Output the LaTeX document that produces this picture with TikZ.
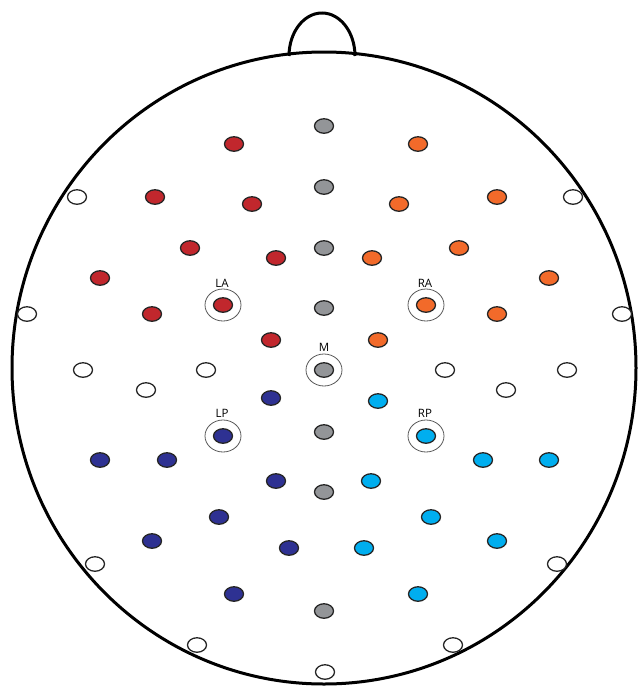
\documentclass[tikz,border=0pt]{standalone}
\usepackage{fontspec}
\setmainfont{Open Sans}
\usetikzlibrary{shapes.geometric}
\definecolor{ered}{HTML}{C1272D}
\definecolor{eorange}{HTML}{F26A2A}
\definecolor{enavy}{HTML}{2E3192}
\definecolor{ecyan}{HTML}{00AEEF}
\definecolor{egray}{HTML}{939598}
\tikzset{
  elec/.style={ellipse, draw=black!85, line width=1.3pt, minimum width=19pt, minimum height=14.5pt, inner sep=0pt},
  ered/.style={elec, fill=ered},
  eor/.style={elec, fill=eorange},
  enav/.style={elec, fill=enavy},
  ecy/.style={elec, fill=ecyan},
  egr/.style={elec, fill=egray},
  ewh/.style={elec, fill=white},
  ring/.style={ellipse, draw=black!65, line width=0.8pt, minimum width=36pt, minimum height=32pt, inner sep=0pt},
  lbl/.style={font=\fontsize{11.5}{12}\selectfont, inner sep=0pt},
  headline/.style={line width=3pt, black}
}
\begin{document}
\begin{tikzpicture}[x=1pt,y=-1pt]
\useasboundingbox (0,0) rectangle (638,686);
% nose
\draw[headline] (289,56) arc[start angle=180, end angle=360, x radius=33, y radius=43];
% head
\node[ellipse, draw, line width=3pt, minimum width=624pt, minimum height=632pt, inner sep=0pt, fill=none] (head) at (324,368) {};
% midline gray
\node[egr] (m1) at (324,126) {};
\node[egr] (m2) at (324,187) {};
\node[egr] (m3) at (324,248) {};
\node[egr] (m4) at (324,308) {};
\node[egr] (m5) at (324,370) {};
\node[egr] (m6) at (324,432) {};
\node[egr] (m7) at (324,492) {};
\node[egr] (m8) at (324,611) {};
% red
\node[ered] (r1) at (234,144) {};
\node[ered] (r2) at (155,197) {};
\node[ered] (r3) at (252,204) {};
\node[ered] (r4) at (190,248) {};
\node[ered] (r5) at (276,258) {};
\node[ered] (r6) at (100,278) {};
\node[ered] (r7) at (152,314) {};
\node[ered] (r8) at (223,305) {};
\node[ered] (r9) at (271,340) {};
% orange
\node[eor] (o1) at (418,144) {};
\node[eor] (o2) at (497,197) {};
\node[eor] (o3) at (399,204) {};
\node[eor] (o4) at (459,248) {};
\node[eor] (o5) at (372,258) {};
\node[eor] (o6) at (549,278) {};
\node[eor] (o7) at (497,314) {};
\node[eor] (o8) at (426,305) {};
\node[eor] (o9) at (378,340) {};
% navy
\node[enav] (n1) at (271,398) {};
\node[enav] (n2) at (223,436) {};
\node[enav] (n3) at (100,460) {};
\node[enav] (n4) at (167,460) {};
\node[enav] (n5) at (276,481) {};
\node[enav] (n6) at (219,517) {};
\node[enav] (n7) at (152,541) {};
\node[enav] (n8) at (289,548) {};
\node[enav] (n9) at (234,594) {};
% cyan
\node[ecy] (c1) at (378,401) {};
\node[ecy] (c2) at (426,436) {};
\node[ecy] (c3) at (483,460) {};
\node[ecy] (c4) at (549,460) {};
\node[ecy] (c5) at (371,481) {};
\node[ecy] (c6) at (431,517) {};
\node[ecy] (c7) at (497,541) {};
\node[ecy] (c8) at (364,548) {};
\node[ecy] (c9) at (418,594) {};
% white
\node[ewh] (w1) at (77,197) {};
\node[ewh] (w2) at (573,197) {};
\node[ewh] (w3) at (27,314) {};
\node[ewh] (w4) at (622,314) {};
\node[ewh] (w5) at (83,370) {};
\node[ewh] (w6) at (146,390) {};
\node[ewh] (w7) at (206,370) {};
\node[ewh] (w8) at (445,370) {};
\node[ewh] (w9) at (506,390) {};
\node[ewh] (w10) at (567,370) {};
\node[ewh] (w11) at (95,564) {};
\node[ewh] (w12) at (557,564) {};
\node[ewh] (w13) at (197,645) {};
\node[ewh] (w14) at (453,645) {};
\node[ewh] (w15) at (325,672) {};
% rings
\node[ring] (ringLA) at (r8) {};
\node[ring] (ringRA) at (o8) {};
\node[ring] (ringM) at (m5) {};
\node[ring] (ringLP) at (n2) {};
\node[ring] (ringRP) at (c2) {};
% labels
\node[lbl] (tLA) at (222,283) {LA};
\node[lbl] (tRA) at (425,283) {RA};
\node[lbl] (tM) at (324,347) {M};
\node[lbl] (tLP) at (222,413) {LP};
\node[lbl] (tRP) at (425,413) {RP};
\end{tikzpicture}
\end{document}
